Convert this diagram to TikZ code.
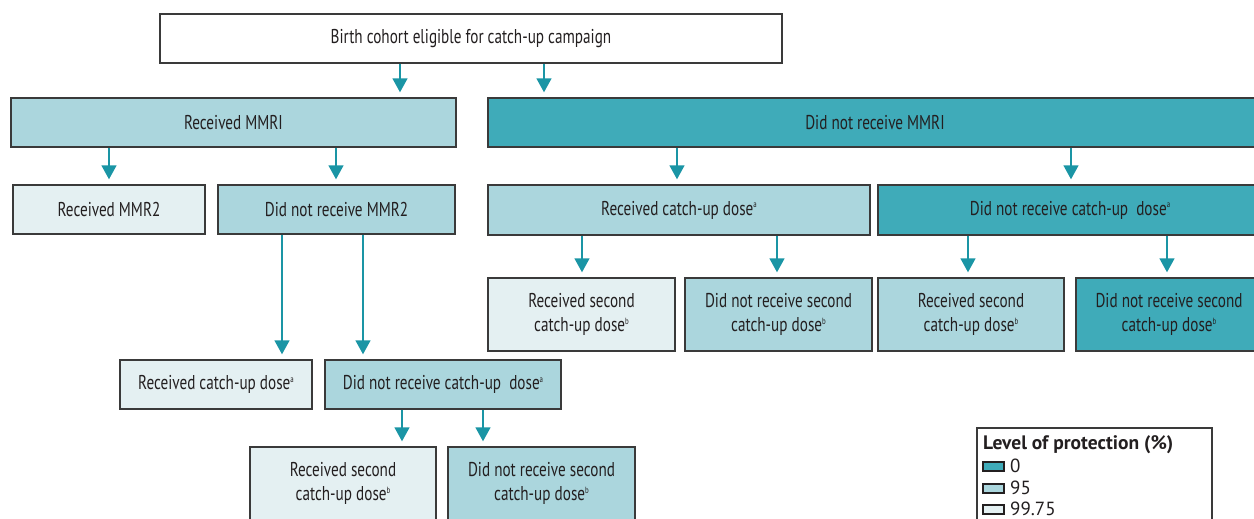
\documentclass[tikz,border=0pt]{standalone}
\usepackage{fontspec}
\setmainfont{PT Sans}[FakeStretch=0.76]
\newfontfamily\legfont{PT Sans}
\usetikzlibrary{arrows.meta}
\definecolor{dark}{HTML}{3FABB9}
\definecolor{mid}{HTML}{ABD6DD}
\definecolor{light}{HTML}{E4F0F2}
\definecolor{arrc}{HTML}{1A95A5}
\definecolor{txt}{HTML}{231F20}
\definecolor{edge}{HTML}{3A3A3A}
\tikzset{
  box/.style={draw=edge, line width=1.4pt, rectangle, inner sep=0pt, align=center,
    text=txt, font=\fontsize{20}{24}\selectfont},
  arr/.style={draw=arrc, line width=1.5pt, -{Triangle[width=15pt,length=14pt]}, shorten >=5pt},
  sw/.style={draw=txt, line width=1.2pt},
  legtxt/.style={anchor=west, inner sep=0pt, text=txt, font=\legfont\fontsize{19}{22}\selectfont}
}
\newcommand{\supa}{\raisebox{0.75ex}{\fontsize{9}{9}\selectfont a}}
\newcommand{\supb}{\raisebox{0.75ex}{\fontsize{9}{9}\selectfont b}}
\begin{document}
\begin{tikzpicture}[x=1pt,y=-1pt]
\useasboundingbox (0,0) rectangle (1254,519);
\clip (0,0) rectangle (1254,519);
% boxes
\node[box, fill=white, minimum width=622pt, minimum height=49pt] (top) at (471,38.5) {Birth cohort eligible for catch-up campaign};
\node[box, fill=mid, minimum width=445pt, minimum height=49pt] (rm1) at (233.5,122.5) {Received MMRI};
\node[box, fill=dark, minimum width=774pt, minimum height=49pt] (nm1) at (875,122.5) {Did not receive MMRI};
\node[box, fill=light, minimum width=192pt, minimum height=49pt] (rm2) at (109,209.5) {Received MMR2};
\node[box, fill=mid, minimum width=237pt, minimum height=49pt] (nm2) at (336.5,209.5) {Did not receive MMR2};
\node[box, fill=mid, minimum width=382pt, minimum height=50pt] (rc1) at (679,210) {Received catch-up dose\supa};
\node[box, fill=dark, minimum width=384pt, minimum height=50pt] (nc1) at (1070,210) {Did not receive catch-up\ \ dose\supa};
\node[box, fill=light, minimum width=187pt, minimum height=73pt] (rs1) at (581.5,314.5) {Received second\\catch-up dose\supb};
\node[box, fill=mid, minimum width=187pt, minimum height=73pt] (ns1) at (778.5,314.5) {Did not receive second\\catch-up dose\supb};
\node[box, fill=mid, minimum width=186pt, minimum height=73pt] (rs2) at (971,314.5) {Received second\\catch-up dose\supb};
\node[box, fill=dark, minimum width=186pt, minimum height=73pt] (ns2) at (1169,314.5) {Did not receive second\\catch-up dose\supb};
\node[box, fill=light, minimum width=192pt, minimum height=49pt] (rc2) at (216,384.5) {Received catch-up dose\supa};
\node[box, fill=mid, minimum width=236pt, minimum height=49pt] (nc2) at (443,384.5) {Did not receive catch-up\ \ dose\supa};
\node[box, fill=light, minimum width=186pt, minimum height=73pt] (rs3) at (343,483.5) {Received second\\catch-up dose\supb};
\node[box, fill=mid, minimum width=187pt, minimum height=73pt] (ns3) at (541.5,483.5) {Did not receive second\\catch-up dose\supb};
% arrows
\draw[arr] (top.south -| 400,0) -- (rm1.north -| 400,0);
\draw[arr] (top.south -| 544,0) -- (nm1.north -| 544,0);
\draw[arr] (rm1.south -| 109,0) -- (rm2.north -| 109,0);
\draw[arr] (rm1.south -| 336,0) -- (nm2.north -| 336,0);
\draw[arr] (nm1.south -| 677,0) -- (rc1.north -| 677,0);
\draw[arr] (nm1.south -| 1071,0) -- (nc1.north -| 1071,0);
\draw[arr] (rc1.south -| 582,0) -- (rs1.north -| 582,0);
\draw[arr] (rc1.south -| 777,0) -- (ns1.north -| 777,0);
\draw[arr] (nc1.south -| 968,0) -- (rs2.north -| 968,0);
\draw[arr] (nc1.south -| 1167,0) -- (ns2.north -| 1167,0);
\draw[arr] (nm2.south -| 282,0) -- (rc2.north -| 282,0);
\draw[arr] (nm2.south -| 363,0) -- (nc2.north -| 363,0);
\draw[arr] (nc2.south -| 402,0) -- (rs3.north -| 402,0);
\draw[arr] (nc2.south -| 483,0) -- (ns3.north -| 483,0);
% legend
\node[draw=edge, line width=1.4pt, fill=white, minimum width=235pt, minimum height=120pt, inner sep=0pt] (leg) at (1094.5,488) {};
\node[anchor=base west, inner sep=0pt, text=txt, font=\legfont\fontsize{19.5}{22}\selectfont\bfseries] (legt) at (983,449.5) {Level of protection (\%)};
\node[sw, fill=dark, minimum width=21pt, minimum height=9pt, inner sep=0pt] (s1) at (993.5,466.5) {};
\node[sw, fill=mid, minimum width=21pt, minimum height=9pt, inner sep=0pt] (s2) at (993.5,488.5) {};
\node[sw, fill=light, minimum width=21pt, minimum height=9pt, inner sep=0pt] (s3) at (993.5,509.5) {};
\node[legtxt] (l1) at (1010,466) {0};
\node[legtxt] (l2) at (1010,488) {95};
\node[legtxt] (l3) at (1010,509) {99.75};
\end{tikzpicture}
\end{document}
